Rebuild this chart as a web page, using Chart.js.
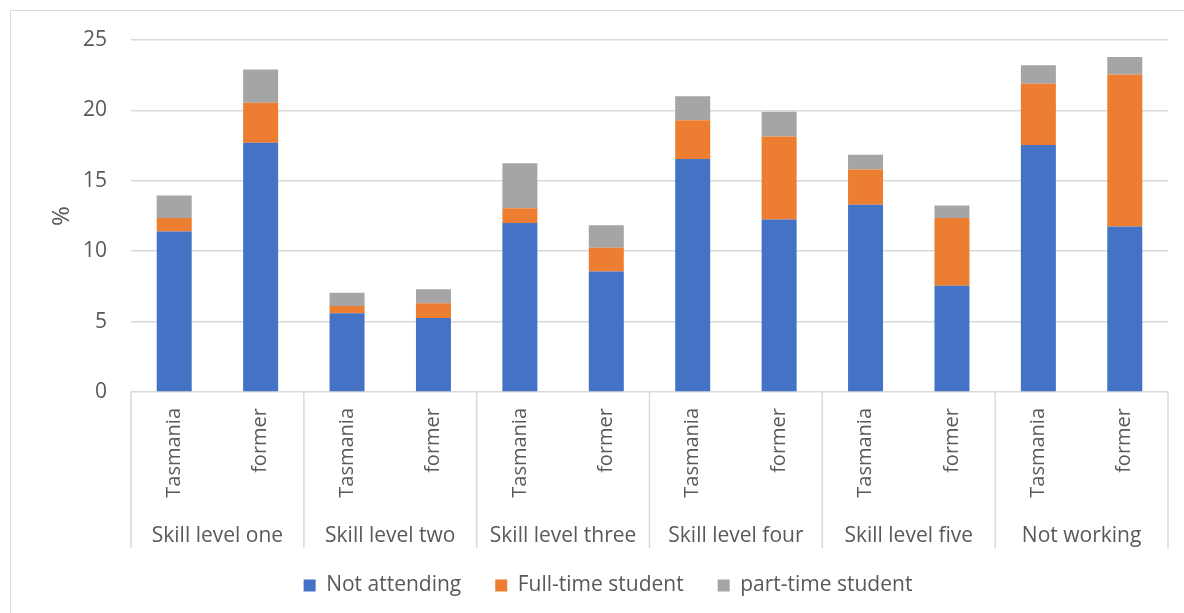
<!DOCTYPE html>
<html>
<head>
<meta charset="utf-8">
<script src="https://cdn.jsdelivr.net/npm/chart.js@4/dist/chart.umd.min.js"></script>
<style>
  html, body { margin: 0; padding: 0; background: #fff; overflow: hidden; }
  #frame {
    position: absolute; left: 10px; top: 10px;
    width: 1300px; height: 700px;
    border: 1px solid #d9d9d9;
  }
  #chart { position: absolute; left: 0; top: 0; }
</style>
</head>
<body>
<div id="frame"></div>
<canvas id="chart" width="1184" height="613"></canvas>
<script>
// categories
const groups = ['Skill level one', 'Skill level two', 'Skill level three',
                'Skill level four', 'Skill level five', 'Not working'];
const regions = ['Tasmania', 'former'];
const labels = groups.flatMap(() => regions);

// series values (%)
const notAttending = [11.4, 17.7, 5.6, 5.25, 12.0, 8.55, 16.55, 12.25, 13.3, 7.55, 17.55, 11.75];
const fullTime     = [0.95, 2.85, 0.5, 1.05, 1.05, 1.7, 2.75, 5.9, 2.5, 4.8, 4.35, 10.8];
const partTime     = [1.6, 2.35, 0.95, 1.0, 3.2, 1.6, 1.7, 1.75, 1.05, 0.9, 1.3, 1.25];

// y ticks
const yMin = 0;
const yMax = 25;
const yStep = 5;

const textColor = '#595959';
const lineColor = '#d9d9d9';
const fontFamily = '"Open Sans", sans-serif';

/**
 * Draws the group dividers and group names under the rotated labels.
 */
const groupAxis = {
    id: 'groupAxis',
    afterDraw(chart) {
        const ctx = chart.ctx;
        const x = chart.scales.x;
        const bottom = chart.chartArea.bottom;
        const half = (x.getPixelForValue(1) - x.getPixelForValue(0)) / 2;
        const per = regions.length;

        ctx.save();
        ctx.strokeStyle = lineColor;
        ctx.lineWidth = 1.5;
        for (let g = 0; g <= groups.length; g++) {
            const px = g < groups.length
                ? x.getPixelForValue(g * per) - half
                : x.getPixelForValue(g * per - 1) + half;
            ctx.beginPath();
            ctx.moveTo(px, bottom);
            ctx.lineTo(px, bottom + 156);
            ctx.stroke();
        }

        ctx.fillStyle = textColor;
        ctx.font = '21px ' + fontFamily;
        ctx.textAlign = 'center';
        ctx.textBaseline = 'middle';
        groups.forEach((name, g) => {
            const left = x.getPixelForValue(g * per) - half;
            const right = x.getPixelForValue(g * per + per - 1) + half;
            ctx.fillText(name, (left + right) / 2, bottom + 144);
        });
        ctx.restore();
    }
};

const barOpts = {
    barPercentage: 0.405,
    categoryPercentage: 1,
    borderWidth: 0
};

new Chart(document.getElementById('chart'), {
    type: 'bar',
    data: {
        labels,
        datasets: [
            { label: 'Not attending', data: notAttending, backgroundColor: '#4472c4', ...barOpts },
            { label: 'Full-time student', data: fullTime, backgroundColor: '#ed7d31', ...barOpts },
            { label: 'part-time student', data: partTime, backgroundColor: '#a5a5a5', ...barOpts }
        ]
    },
    options: {
        responsive: false,
        animation: false,
        layout: { padding: { left: 48, right: 16, top: 40, bottom: 7 } },
        scales: {
            x: {
                stacked: true,
                grid: { display: false, drawTicks: false },
                border: { display: false },
                ticks: {
                    color: textColor,
                    font: { family: fontFamily, size: 20 },
                    minRotation: 90,
                    maxRotation: 90,
                    autoSkip: false,
                    padding: 16
                },
                afterFit(scale) { scale.height = 149; }
            },
            y: {
                stacked: true,
                min: yMin,
                max: yMax,
                grid: { color: lineColor, lineWidth: 1.5, drawTicks: false },
                border: { display: false },
                ticks: {
                    stepSize: yStep,
                    color: textColor,
                    font: { family: fontFamily, size: 21 },
                    padding: 24
                },
                title: {
                    display: true,
                    text: '%',
                    color: textColor,
                    font: { family: fontFamily, size: 24 },
                    padding: 0
                },
                afterFit(scale) { scale.width = 83; }
            }
        },
        plugins: {
            legend: {
                position: 'bottom',
                labels: {
                    color: textColor,
                    font: { family: fontFamily, size: 21 },
                    boxWidth: 12,
                    boxHeight: 12,
                    padding: 34
                }
            },
            tooltip: { enabled: false }
        }
    },
    plugins: [groupAxis]
});
</script>
</body>
</html>
